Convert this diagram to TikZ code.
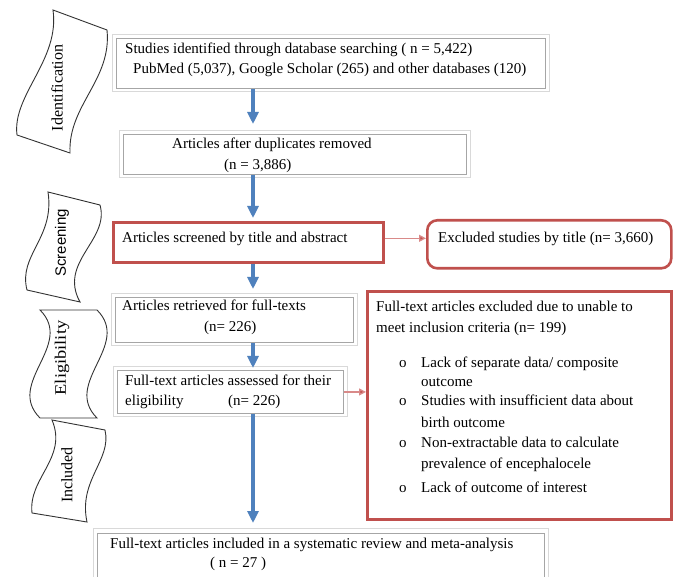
\documentclass[tikz,border=0pt]{standalone}
\usepackage{fontspec}
\setmainfont{Liberation Serif}
\newfontfamily\arialfont{Liberation Sans}
\usetikzlibrary{arrows.meta}
\definecolor{boxred}{HTML}{C0504D}
\definecolor{linered}{HTML}{D98A89}
\definecolor{arrowblue}{HTML}{4F81BD}
\definecolor{innergray}{HTML}{A6A6A6}
\definecolor{outgray}{HTML}{D9D9D9}
\begin{document}
\begin{tikzpicture}[x=1pt,y=-1pt]
\tikzset{
  inbox/.style={draw=innergray, line width=0.9pt, inner sep=0pt, anchor=north west},
  outframe/.style={draw=outgray, line width=0.9pt},
  redbox/.style={draw=boxred, line width=2.6pt, inner sep=0pt, anchor=north west},
  txt/.style={anchor=base west, inner sep=0pt, font=\fontsize{15}{20}\selectfont},
  bluearrow/.style={draw=arrowblue, line width=4pt, -{Triangle[width=11pt,length=12pt]}},
  redarrow/.style={draw=linered, line width=1.3pt, -{Triangle[width=7pt,length=7pt,fill=boxred]}},
  banner/.style={draw=black!80, line width=0.9pt},
  bannertxt/.style={rotate=90, inner sep=0pt, font=\fontsize{16}{18}\selectfont}
}
\clip (0,0) rectangle (675,577);
\fill[white] (0,0) rectangle (675,577);

% column of the blue arrows
\coordinate (col) at (253,0);

% boxes
\node[inbox, minimum width=429pt, minimum height=50pt] (b1) at (116,38) {};
\draw[outframe] ([shift={(-3.5,-4)}]b1.north west) rectangle ([shift={(3.5,3)}]b1.south east);
\node[inbox, minimum width=343pt, minimum height=40pt] (b2) at (123,134) {};
\draw[outframe] ([shift={(-3.5,-4)}]b2.north west) rectangle ([shift={(3.5,3)}]b2.south east);
\node[redbox, minimum width=270pt, minimum height=40pt] (b3) at (112,221) {};
\node[redbox, rounded corners=10pt, minimum width=244pt, minimum height=48pt] (b4) at (426,219) {};
\node[inbox, minimum width=238pt, minimum height=45pt] (b5) at (115,297) {};
\draw[outframe] ([shift={(-3.5,-4)}]b5.north west) rectangle ([shift={(3.5,3)}]b5.south east);
\node[inbox, minimum width=226pt, minimum height=43pt] (b6) at (117,370) {};
\draw[outframe] ([shift={(-3.5,-4)}]b6.north west) rectangle ([shift={(3.5,3)}]b6.south east);
\node[redbox, minimum width=304pt, minimum height=228pt] (b7) at (366,290) {};
\node[inbox, minimum width=447pt, minimum height=60pt] (b8) at (97,533) {};
\draw[outframe] ([shift={(-3.5,-5)}]b8.north west) rectangle ([shift={(3.5,3)}]b8.south east);

% texts
\node[txt] (t1a) at (125,54) {Studies identified through database searching  ( n = 5,422)};
\node[txt] (t1b) at (133,74) {PubMed (5,037), Google Scholar (265) and other databases (120)};
\node[txt] (t2a) at (172,149) {Articles after duplicates removed};
\node[txt] (t2b) at (224,170) {(n = 3,886)};
\node[txt] (t3) at (122,243) {Articles screened by title and abstract};
\node[txt] (t4) at (438,243) {Excluded studies by title (n= 3,660)};
\node[txt] (t5a) at (122,311) {Articles retrieved for full-texts};
\node[txt] (t5b) at (204,332) {(n= 226)};
\node[txt] (t6a) at (125,385) {Full-text articles assessed for their};
\node[txt] (t6b) at (125,406) {eligibility};
\node[txt] (t6c) at (228,406) {(n= 226)};
\node[txt] (t7a) at (376,312) {Full-text articles excluded due to unable to};
\node[txt] (t7b) at (376,333) {meet inclusion  criteria (n= 199)};
\node[txt] (o1) at (399,367) {o};
\node[txt] (o2) at (399,406) {o};
\node[txt] (o3) at (399,447) {o};
\node[txt] (o4) at (399,492) {o};
\node[txt] (t7c) at (421,367) {Lack of separate data/ composite};
\node[txt] (t7d) at (421,386) {outcome};
\node[txt] (t7e) at (421,406) {Studies with insufficient data about};
\node[txt] (t7f) at (421,427) {birth outcome};
\node[txt] (t7g) at (421,447) {Non-extractable data to calculate};
\node[txt] (t7h) at (421,468) {prevalence of encephalocele};
\node[txt] (t7i) at (421,492) {Lack of outcome of interest};
\node[txt] (t8a) at (110,548) {Full-text articles included in a systematic review and meta-analysis};
\node[txt] (t8b) at (210,567) {( n = 27 )};

% blue arrows
\draw[bluearrow, shorten >=10pt] (b1.south -| col) -- (b2.north -| col);
\draw[bluearrow, shorten >=3pt] (b2.south -| col) -- (b3.north -| col);
\draw[bluearrow, shorten >=8pt] (b3.south -| col) -- (b5.north -| col);
\draw[bluearrow, shorten >=2pt] (b5.south -| col) -- (b6.north -| col);
\draw[bluearrow, shorten >=10pt] (b6.south -| col) -- (b8.north -| col);

% red arrows
\draw[redarrow] ([yshift=4pt]b3.east) -- ([yshift=4pt]b3.east -| b4.west);
\draw[redarrow] (b6.east) -- (b6.east -| b7.west);

% side banners
\draw[banner] (53,10) -- (107,30) .. controls (112,80) and (68,105) .. (70,153)
  -- (17,135) .. controls (12,95) and (60,60) .. (53,10) -- cycle;
\node[bannertxt] (lid) at (57,88) {Identification};
\draw[banner] (48,192) -- (100,205) .. controls (110,240) and (58,262) .. (80,302)
  -- (27,290) .. controls (18,255) and (55,238) .. (48,192) -- cycle;
\node[bannertxt, font=\arialfont\fontsize{15}{18}\selectfont] (lscr) at (62,243) {Screening};
\draw[banner] (40,310) -- (97,310) .. controls (132,345) and (62,383) .. (97,418)
  -- (40,418) .. controls (5,383) and (75,345) .. (40,310) -- cycle;
\node[bannertxt] (lel) at (62,358) {\scalebox{1.15}[1]{Eligibility}};
\draw[banner] (52,420) -- (105,430) .. controls (112,460) and (78,480) .. (87,522)
  -- (32,513) .. controls (28,478) and (68,458) .. (52,420) -- cycle;
\node[bannertxt] (lin) at (67,475) {Included};
\end{tikzpicture}
\end{document}
